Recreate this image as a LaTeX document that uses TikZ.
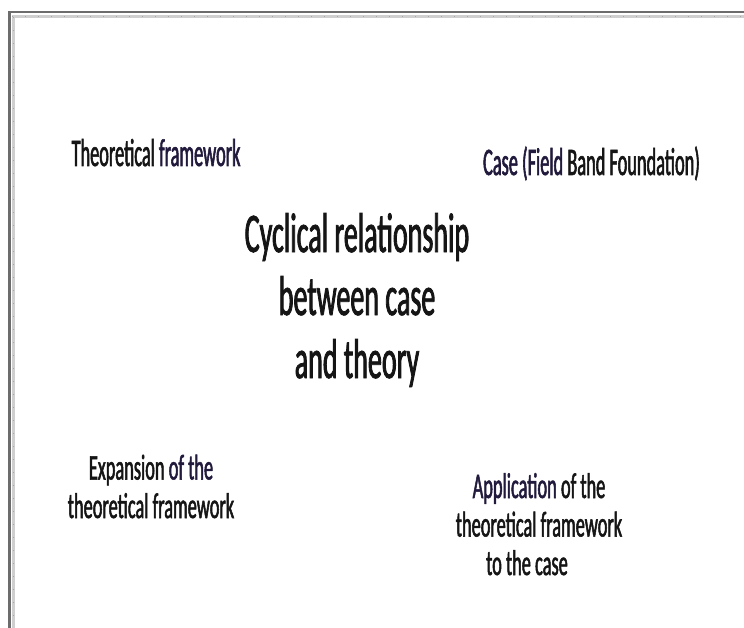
\documentclass[tikz,border=0pt]{standalone}
\usepackage{fontspec}
\newfontfamily\lblfont[FakeStretch=0.51,FakeBold=1.4]{Carlito}
\newfontfamily\hdrfont[FakeStretch=0.47,FakeBold=1.4]{Carlito}
\newfontfamily\ttlfont[FakeStretch=0.50,FakeBold=1.4]{Carlito}
\definecolor{ink}{HTML}{151515}
\definecolor{inkv}{HTML}{221A3C}
\definecolor{frameDark}{HTML}{6C6C6C}
\definecolor{frameLight}{HTML}{CFCFCF}
\tikzset{
  % anchor=base sits on the baseline of the last line of a node
  lbl/.style={inner sep=0pt, anchor=base, align=center, text=ink,
    font=\lblfont\fontsize{36bp}{38.5bp}\selectfont},
  hdr/.style={lbl, font=\hdrfont\fontsize{39bp}{42bp}\selectfont},
  ttl/.style={inner sep=0pt, anchor=base, align=center, text=ink,
    font=\ttlfont\fontsize{56bp}{63bp}\selectfont},
}
\begin{document}
\begin{tikzpicture}[x=1bp,y=-1bp]
  \useasboundingbox (0,0) rectangle (744,628);
  \fill[white] (0,0) rectangle (744,628);
  % window frame along the top and left edges
  \fill[frameDark] (8,11) rectangle (744,13.5);
  \fill[frameDark] (8,11) rectangle (10.7,628);
  \fill[frameLight] (11.5,15) rectangle (744,18);
  \fill[frameLight] (11.5,15) rectangle (14.5,628);
  \draw[gray!70, line width=0.8bp, dash pattern=on 1bp off 12bp] (12,16.5) -- (744,16.5);
  \draw[gray!70, line width=0.8bp, dash pattern=on 1bp off 12bp] (13,17) -- (13,628);

  % labels
  \node[hdr] (theory) at (156,166) {Theoretical \textcolor{inkv}{framework}};
  \node[hdr] (case) at (591.5,175) {\textcolor{inkv}{Case (Field} Band Foundation)};
  \node[ttl] (cycle) at (357,378) {Cyclical relationship\\between case\\and theory};
  \node[lbl] (expand) at (151,518) {Expansion \textcolor{inkv}{of the}\\theoretical framework};
  \node[lbl] (apply) at (539,575) {\textcolor{inkv}{Application} of the\\theoretical framework\\to the case\kern24bp};
\end{tikzpicture}
\end{document}
